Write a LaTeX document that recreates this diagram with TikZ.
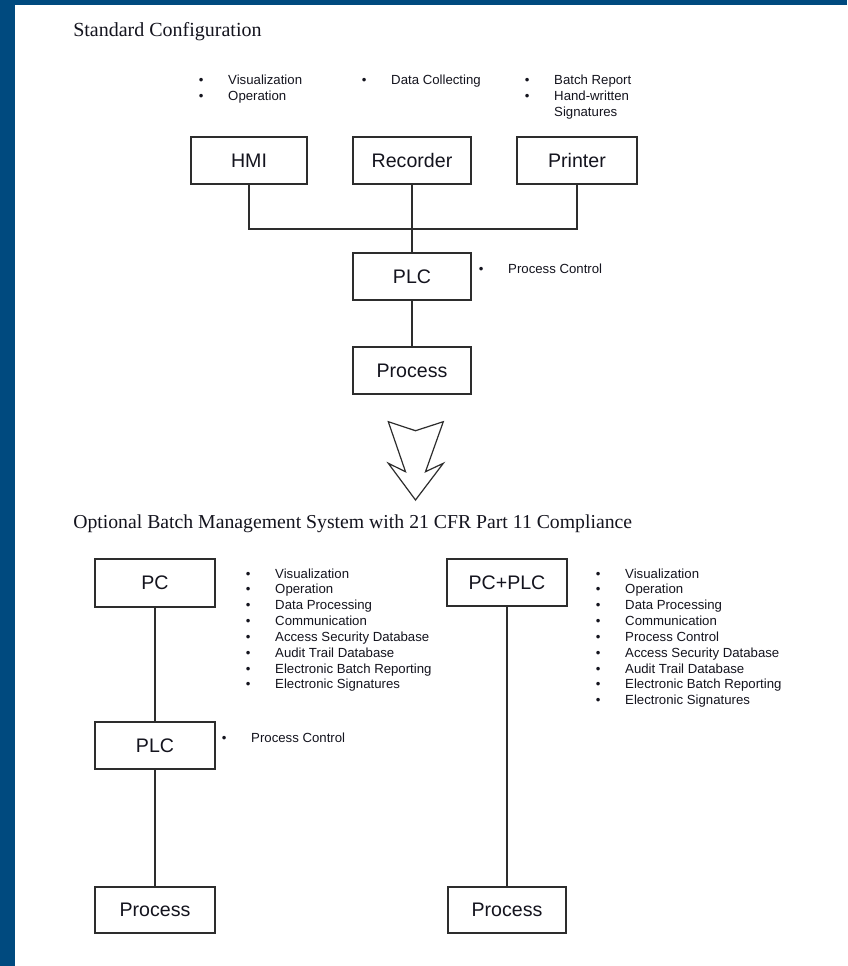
\documentclass[tikz,border=0pt]{standalone}
\usepackage{fontspec}
\setmainfont{Liberation Serif}
\newfontfamily\arialf{Liberation Sans}
\definecolor{frameblue}{RGB}{0,74,127}
\definecolor{boxgray}{RGB}{45,45,45}
\definecolor{txt}{RGB}{20,20,30}
\newcommand{\boxfont}{\arialf\fontsize{14.7}{17}\selectfont}
\newcommand{\bulfont}{\arialf\fontsize{9.9}{11.89}\selectfont}
\newcommand{\titlefont}{\fontsize{15}{18}\selectfont}
\newcommand{\blst}[1]{\begin{tabular}[t]{@{}p{22.1pt}@{}l@{}}#1\end{tabular}}
\newcommand{\bu}{\textbullet}
\begin{document}
\begin{tikzpicture}[x=0.75pt,y=-0.75pt,
  box/.style={draw=boxgray, line width=1.3pt, fill=white, inner sep=0pt, font=\boxfont, text=txt},
  conn/.style={draw=boxgray, line width=1.3pt},
  ttl/.style={anchor=base west, inner sep=0pt, font=\titlefont, text=txt},
  blist/.style={anchor=base west, inner sep=0pt, font=\bulfont, text=txt},
  bigarrow/.style={draw=boxgray, line width=0.9pt, fill=white, line join=miter}]
\fill[frameblue] (0,0) rectangle (847,966);
\fill[white] (15,5) rectangle (847,966);
\useasboundingbox (0,0) rectangle (847,966);

% titles
\node[ttl] (t1) at (73,37) {Standard Configuration};
\node[ttl, font=\fontsize{14.8}{18}\selectfont] (t2) at (73,528) {Optional Batch Management System with 21 CFR Part 11 Compliance};

% standard configuration
\node[box, minimum width={116*0.75pt}, minimum height={47*0.75pt}] (hmi) at (249,160.5) {HMI};
\node[box, minimum width={118*0.75pt}, minimum height={47*0.75pt}] (rec) at (412,160.5) {Recorder};
\node[box, minimum width={120*0.75pt}, minimum height={47*0.75pt}] (prn) at (577,160.5) {Printer};
\node[box, minimum width={118*0.75pt}, minimum height={47*0.75pt}] (plc1) at (412,276.5) {PLC};
\node[box, minimum width={118*0.75pt}, minimum height={47*0.75pt}] (proc1) at (412,370.5) {Process};
\coordinate (bus) at (412,229);

\draw[conn] (hmi.south) |- (bus) -| (prn.south);
\draw[conn] (rec.south) -- (plc1.north);
\draw[conn] (plc1.south) -- (proc1.north);

\node[blist] (lhmi) at (198.5,85) {\blst{\bu & Visualization\\ \bu & Operation}};
\node[blist] (lrec) at (361.5,85) {\blst{\bu & Data Collecting}};
\node[blist] (lprn) at (524.5,85) {\blst{\bu & Batch Report\\ \bu & Hand-written\\ & Signatures}};
\node[blist] (lplc1) at (478.5,273) {\blst{\bu & Process Control}};

% big arrow
\draw[bigarrow] (388.3,421.7) -- (415.5,430.7) -- (443.3,421.7) -- (425.5,471.7) -- (443.3,463.3) -- (415.5,500) -- (388.3,463.3) -- (405.5,471.7) -- cycle;

% optional: left column
\node[box, minimum width={120*0.75pt}, minimum height={48*0.75pt}] (pc) at (155,583) {PC};
\node[box, minimum width={120*0.75pt}, minimum height={47*0.75pt}] (plc2) at (155,745.5) {PLC};
\node[box, minimum width={120*0.75pt}, minimum height={46*0.75pt}] (proc2) at (155,910) {Process};
\draw[conn] (pc.south) -- (plc2.north);
\draw[conn] (plc2.south) -- (proc2.north);

\node[blist] (lpc) at (245.5,578) {\blst{\bu & Visualization\\ \bu & Operation\\ \bu & Data Processing\\ \bu & Communication\\ \bu & Access Security Database\\ \bu & Audit Trail Database\\ \bu & Electronic Batch Reporting\\ \bu & Electronic Signatures}};
\node[blist] (lplc2) at (221.5,742) {\blst{\bu & Process Control}};

% optional: right column
\node[box, minimum width={120*0.75pt}, minimum height={47*0.75pt}] (pcplc) at (507,582.5) {PC+PLC};
\node[box, minimum width={118*0.75pt}, minimum height={46*0.75pt}] (proc3) at (507,910) {Process};
\draw[conn] (pcplc.south) -- (proc3.north);

\node[blist] (lpcplc) at (595.5,578) {\blst{\bu & Visualization\\ \bu & Operation\\ \bu & Data Processing\\ \bu & Communication\\ \bu & Process Control\\ \bu & Access Security Database\\ \bu & Audit Trail Database\\ \bu & Electronic Batch Reporting\\ \bu & Electronic Signatures}};
\end{tikzpicture}
\end{document}
